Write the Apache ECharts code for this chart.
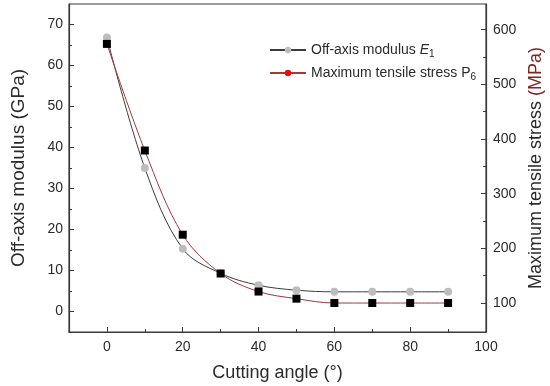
<!DOCTYPE html>
<html>
<head>
<meta charset="utf-8">
<script src="https://cdn.jsdelivr.net/npm/echarts@6/dist/echarts.min.js"></script>
<style>
html,body{margin:0;padding:0;background:#fff;}
#c{width:550px;height:386px;}
</style>
</head>
<body>
<div id="c"></div>
<script>
// ---- data ----
var angles = [0, 10, 20, 30, 40, 50, 60, 70, 80, 90];
var modulus = [66.8, 35.0, 15.3, 9.3, 6.4, 5.2, 4.8, 4.8, 4.8, 4.8];      // GPa, left axis
var stress = [574, 379, 225, 154, 121, 108, 100, 100, 100, 100];         // MPa, right axis
var xTicks = [0, 20, 40, 60, 80, 100];
var xMinorTicks = [10, 30, 50, 70, 90];
var yLeftTicks = [0, 10, 20, 30, 40, 50, 60, 70];
var yLeftMinorTicks = [5, 15, 25, 35, 45, 55, 65];
var yRightTicks = [100, 200, 300, 400, 500, 600];
var yRightMinorTicks = [150, 250, 350, 450, 550];

var TXT = '#2b2b2b';
var AX = '#3a3a3a';
var FONT = 'Liberation Sans, Arial, sans-serif';

function pairs(xs, ys) { return xs.map(function (x, i) { return [x, ys[i]]; }); }

var chart = echarts.init(document.getElementById('c'), null, {renderer: 'canvas'});

var xRange = {min: -10, max: 100};
var yLRange = {min: -5, max: 75};
var yRRange = {min: 47, max: 647};

var option = {
  backgroundColor: '#fff',
  animation: false,
  textStyle: {fontFamily: FONT},
  grid: {left: 69, right: 64, top: 4, bottom: 54, containLabel: false, outerBoundsMode: 'none',
    show: true, borderColor: AX, borderWidth: 1.2, backgroundColor: 'transparent'},
  legend: {
    left: 264, top: 38, orient: 'vertical', itemWidth: 36, itemHeight: 8, itemGap: 7,
    data: ['legE', 'legP'],
    formatter: function (n) {
      return n === 'legE' ? '{t|Off-axis modulus }{i|E}{s|1}' : '{t|Maximum tensile stress P}{s|6}';
    },
    textStyle: {
      color: TXT, fontFamily: FONT, fontSize: 14,
      rich: {
        t: {fontSize: 14, color: TXT, fontFamily: FONT},
        i: {fontSize: 14, color: TXT, fontStyle: 'italic', fontFamily: FONT},
        s: {fontSize: 10, color: TXT, fontFamily: FONT, padding: [8, 0, 0, 0]}
      }
    }
  },
  xAxis: [
    Object.assign({
      type: 'value', position: 'bottom',
      name: 'Cutting angle (°)', nameLocation: 'middle', nameGap: 32,
      nameTextStyle: {fontSize: 18, color: TXT, fontFamily: FONT},
      axisLine: {show: true, onZero: false, lineStyle: {color: AX, width: 1.2}},
      axisTick: {show: true, inside: true, length: 5, customValues: xTicks, lineStyle: {color: AX}},
      axisLabel: {customValues: xTicks, fontSize: 14, color: TXT, margin: 8, fontFamily: FONT},
      splitLine: {show: false}
    }, xRange),
    Object.assign({
      type: 'value', position: 'bottom',
      axisLine: {show: false, onZero: false},
      axisTick: {show: true, inside: true, length: 3, customValues: xMinorTicks, lineStyle: {color: AX}},
      axisLabel: {show: false},
      splitLine: {show: false}
    }, xRange)
  ],
  yAxis: [
    Object.assign({
      type: 'value', position: 'left',
      name: 'Off-axis modulus (GPa)', nameLocation: 'middle', nameGap: 41, nameRotate: 90,
      nameTextStyle: {fontSize: 19, color: TXT, fontFamily: FONT},
      axisLine: {show: true, onZero: false, lineStyle: {color: AX, width: 1.2}},
      axisTick: {show: true, inside: true, length: 5, customValues: yLeftTicks, lineStyle: {color: AX}},
      axisLabel: {customValues: yLeftTicks, fontSize: 14, color: TXT, margin: 6, fontFamily: FONT},
      splitLine: {show: false}
    }, yLRange),
    Object.assign({
      type: 'value', position: 'right',
      name: '{a|Maximum tensile stress }{b|(MPa)}', nameLocation: 'middle', nameGap: 40, nameRotate: 90,
      nameTextStyle: {fontSize: 18, color: TXT, fontFamily: FONT,
        rich: {a: {fontSize: 18, color: TXT, fontFamily: FONT}, b: {fontSize: 18, color: '#7d2424', fontFamily: FONT}}},
      axisLine: {show: true, onZero: false, lineStyle: {color: AX, width: 1.2}},
      axisTick: {show: true, inside: true, length: 5, customValues: yRightTicks, lineStyle: {color: AX}},
      axisLabel: {customValues: yRightTicks, fontSize: 14, color: TXT, margin: 7, fontFamily: FONT},
      splitLine: {show: false}
    }, yRRange),
    Object.assign({
      type: 'value', position: 'left',
      axisLine: {show: false, onZero: false},
      axisTick: {show: true, inside: true, length: 3, customValues: yLeftMinorTicks, lineStyle: {color: AX}},
      axisLabel: {show: false}, splitLine: {show: false}
    }, yLRange),
    Object.assign({
      type: 'value', position: 'right',
      axisLine: {show: false, onZero: false},
      axisTick: {show: true, inside: true, length: 3, customValues: yRightMinorTicks, lineStyle: {color: AX}},
      axisLabel: {show: false}, splitLine: {show: false}
    }, yRRange)
  ],
  series: [
    {
      name: 'modulus', type: 'line', xAxisIndex: 0, yAxisIndex: 0,
      data: pairs(angles, modulus), smooth: 0.35,
      symbol: 'circle', symbolSize: 8,
      lineStyle: {color: '#3c3c3c', width: 1},
      itemStyle: {color: '#bdbdbd'}, z: 3
    },
    {
      name: 'stress', type: 'line', xAxisIndex: 0, yAxisIndex: 1,
      data: pairs(angles, stress), smooth: 0.35,
      symbol: 'rect', symbolSize: 8,
      lineStyle: {color: '#9c3a3a', width: 1},
      itemStyle: {color: '#000'}, z: 4
    },
    {
      name: 'legE', type: 'line', xAxisIndex: 0, yAxisIndex: 0, data: [],
      symbol: 'circle', lineStyle: {color: '#3c3c3c', width: 1.2}, itemStyle: {color: '#bdbdbd'}
    },
    {
      name: 'legP', type: 'line', xAxisIndex: 0, yAxisIndex: 0, data: [],
      symbol: 'circle', lineStyle: {color: '#a33a3a', width: 1.2}, itemStyle: {color: '#e01010'}
    }
  ]
};
chart.setOption(option);
</script>
</body>
</html>
